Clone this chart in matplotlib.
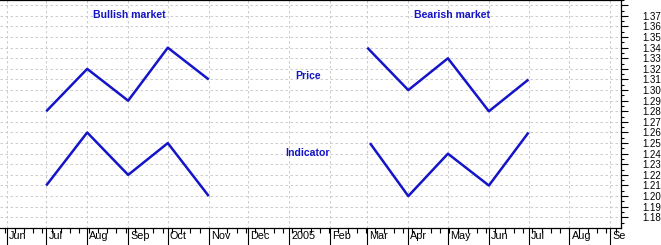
"""Bullish / bearish divergence sketch: price vs indicator."""

import datetime as dt

import matplotlib
matplotlib.use("Agg")
import matplotlib.dates as mdates
import matplotlib.pyplot as plt
import numpy as np

plt.rcParams["font.family"] = ["Liberation Sans", "DejaVu Sans"]

BLUE = "#1414c8"

# data
bull_dates = [dt.date(2004, 7, 1), dt.date(2004, 8, 1), dt.date(2004, 9, 1),
              dt.date(2004, 10, 1), dt.date(2004, 11, 1)]
bull_price = [1.28, 1.32, 1.29, 1.34, 1.31]
bull_indicator = [1.21, 1.26, 1.22, 1.25, 1.20]

bear_price_dates = [dt.date(2005, 3, 1), dt.date(2005, 4, 1), dt.date(2005, 5, 1),
                    dt.date(2005, 6, 1), dt.date(2005, 7, 1)]
bear_ind_dates = [dt.date(2005, 3, 3), dt.date(2005, 4, 1), dt.date(2005, 5, 1),
                  dt.date(2005, 6, 1), dt.date(2005, 7, 1)]
bear_price = [1.34, 1.30, 1.33, 1.28, 1.31]
bear_indicator = [1.25, 1.20, 1.24, 1.21, 1.26]

month_labels = ["Jun", "Jul", "Aug", "Sep", "Oct", "Nov", "Dec", "2005",
                "Feb", "Mar", "Apr", "May", "Jun", "Jul", "Aug", "Se"]

fig = plt.figure(figsize=(6.61, 2.45), dpi=100)
ax = fig.add_axes([0.0, 0.0694, 0.9395, 0.9306])

for x, y in [(bull_dates, bull_price), (bull_dates, bull_indicator),
             (bear_price_dates, bear_price), (bear_ind_dates, bear_indicator)]:
    ax.plot(x, y, color=BLUE, lw=1.8, solid_capstyle="butt")

ax.set_xlim(dt.date(2004, 5, 27), dt.date(2005, 9, 9))
ax.set_ylim(1.1699, 1.3848)

# x axis: month ticks with labels sitting right of the tick
month_ticks = [dt.date(2004 + (5 + i) // 12, (5 + i) % 12 + 1, 1) for i in range(16)]
ax.set_xticks(month_ticks)
ax.set_xticklabels(month_labels)
ax.xaxis.set_minor_locator(mdates.WeekdayLocator(byweekday=mdates.MO))
ax.tick_params(axis="x", which="major", direction="out", length=12, width=0.8,
               pad=-9.5, labelsize=7.8)
ax.tick_params(axis="x", which="minor", direction="out", length=3.5, width=0.8)
offset = matplotlib.transforms.ScaledTranslation(1.5 / 72, 0, fig.dpi_scale_trans)
for lab in ax.xaxis.get_majorticklabels():
    lab.set_horizontalalignment("left")
    lab.set_transform(lab.get_transform() + offset)

# y axis on the right
ax.yaxis.tick_right()
ax.set_yticks(np.round(np.arange(1.18, 1.3801, 0.01), 2))
ax.set_yticks(np.round(np.arange(1.175, 1.3851, 0.01), 3), minor=True)
ax.set_yticklabels([f"{v:.2f}" if v <= 1.375 else "" for v in ax.get_yticks()])
ax.tick_params(axis="y", which="major", direction="out", length=5, width=0.8,
               pad=10.5, labelsize=7)
ax.tick_params(axis="y", which="minor", direction="out", length=2.5, width=0.8)

ax.grid(True, which="major", color="#c4c4c4", lw=0.6, ls=(0, (3, 3)))
ax.spines["left"].set_visible(False)
for side in ("right", "bottom", "top"):
    ax.spines[side].set_linewidth(0.9)

txt = dict(color=BLUE, fontsize=7.6, fontweight="bold", ha="center", va="center")
ax.text(dt.date(2004, 9, 2), 1.371, "Bullish market", **txt)
ax.text(dt.date(2005, 5, 4), 1.371, "Bearish market", **txt)
ax.text(dt.date(2005, 1, 15), 1.313, "Price", **txt)
ax.text(dt.date(2005, 1, 15), 1.241, "Indicator", **txt)

fig.savefig("out.png", dpi=100)
